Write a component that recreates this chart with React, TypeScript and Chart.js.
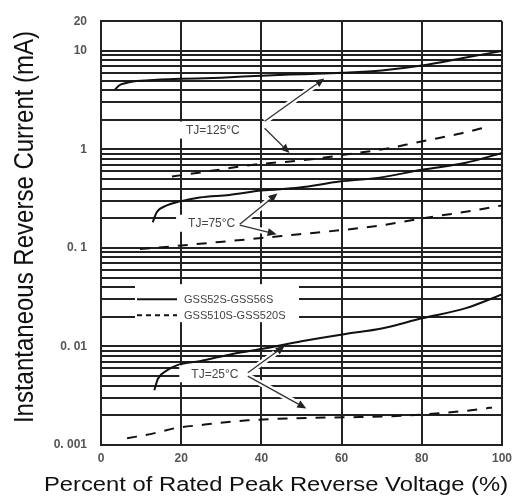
import { useEffect, useRef } from 'react';
import { Chart, registerables } from 'chart.js';

Chart.register(...registerables);

// ---- axis / tick data ----
const xTickStep = 20;
const xMin = 0;
const xMax = 100;
const yMin = 0.001;
const yMax = 20;
const yLabelValues = [20, 10, 1, 0.1, 0.01, 0.001];
const yLabelTexts = ['20', '10', '1', '0. 1', '0. 01', '0. 001'];
const yGridDecades = [0.001, 0.01, 0.1, 1];
const yGridMantissas = [1, 2, 3, 4, 5, 6, 7, 8, 9];
const yGridExtra = [10, 20];

const xTitle = 'Percent of Rated Peak Reverse Voltage (%)';
const yTitle = 'Instantaneous Reverse Current (mA)';

// ---- series: GSS52S-GSS56S (solid) ----
const solid125X = [3.5, 4.5, 6, 8, 11, 14, 20, 30, 40, 50, 60, 70, 80, 90, 100];
const solid125Y = [4.05, 4.45, 4.7, 4.9, 5.0, 5.1, 5.2, 5.35, 5.6, 5.8, 6.0, 6.33, 7.1, 8.4, 10.0];
const solid75X = [12.9, 13.9, 16.4, 19.7, 24.6, 32, 40, 49.5, 59.5, 69.5, 80, 91, 100];
const solid75Y = [0.182, 0.23, 0.27, 0.297, 0.325, 0.345, 0.382, 0.41, 0.471, 0.517, 0.621, 0.731, 0.92];
const solid25X = [13.3, 14.2, 16.4, 19.2, 24.6, 32.8, 41, 50, 61, 70, 80, 91, 100];
const solid25Y = [0.0036, 0.0047, 0.0057, 0.0065, 0.0071, 0.0084, 0.0096, 0.0113, 0.0134, 0.0152, 0.0193, 0.0245, 0.0337];

// ---- series: GSS510S-GSS520S (dashed) ----
const dashed125X = [17.7, 28, 38, 49.5, 60.5, 72.5, 78, 84, 90, 97];
const dashed125Y = [0.53, 0.61, 0.7, 0.77, 0.88, 1.04, 1.16, 1.3, 1.46, 1.72];
const dashed75X = [9.7, 18, 29.6, 40, 49.5, 59.5, 70, 82, 93, 100];
const dashed75Y = [0.0975, 0.104, 0.115, 0.126, 0.138, 0.151, 0.17, 0.205, 0.24, 0.27];
const dashed25X = [6.5, 13.4, 18.4, 24.6, 36.6, 48.5, 60.7, 72.4, 84.6, 96, 97.5];
const dashed25Y = [0.00117, 0.00132, 0.00148, 0.00159, 0.00178, 0.00187, 0.00191, 0.00196, 0.0021, 0.00235, 0.0024];

const seriesNames = ['GSS52S-GSS56S', 'GSS510S-GSS520S'];

// ---- temperature annotations (data coordinates) ----
const tempLabels = ['TJ=125°C', 'TJ=75°C', 'TJ=25°C'];
const tempLabelAt = [
  [27.9, 1.57],
  [27.6, 0.178],
  [28.4, 0.00528],
];
const tempArrows = [
  [
    [40.8, 1.93, 55.7, 5.23],
    [40.8, 1.64, 47.0, 0.921],
  ],
  [
    [34.6, 0.174, 44.0, 0.357],
    [34.6, 0.17, 43.8, 0.138],
  ],
  [
    [36.6, 0.0054, 45.8, 0.0101],
    [36.6, 0.005, 51.2, 0.00235],
  ],
];

const toPts = (xs: number[], ys: number[]) => xs.map((x, i) => ({ x, y: ys[i] }));
const gridValues = [
  ...yGridDecades.flatMap((d) => yGridMantissas.map((m) => Number((m * d).toPrecision(3)))),
  ...yGridExtra,
];

const FONT = '"Liberation Sans", Arial, sans-serif';

const overlayPlugin = {
  id: 'overlay',
  afterDatasetsDraw(chart: any) {
    const { ctx, chartArea, scales } = chart;
    const xs = scales.x;
    const ys = scales.y;

    // annotations
    ctx.save();
    ctx.font = `12px ${FONT}`;
    tempLabels.forEach((text, i) => {
      const cx = xs.getPixelForValue(tempLabelAt[i][0]);
      const cy = ys.getPixelForValue(tempLabelAt[i][1]);
      const w = ctx.measureText(text).width + 24;
      // arrow halos
      tempArrows[i].forEach(([sx, sy, ex, ey]) => {
        const x0 = xs.getPixelForValue(sx);
        const y0 = ys.getPixelForValue(sy);
        const x1 = xs.getPixelForValue(ex);
        const y1 = ys.getPixelForValue(ey);
        const len = Math.hypot(x1 - x0, y1 - y0);
        const ux = (x1 - x0) / len;
        const uy = (y1 - y0) / len;
        ctx.strokeStyle = '#fff';
        ctx.lineWidth = 6;
        ctx.setLineDash([]);
        ctx.beginPath();
        ctx.moveTo(x0, y0);
        ctx.lineTo(x1 - ux * 12, y1 - uy * 12);
        ctx.stroke();
      });
      ctx.fillStyle = '#fff';
      ctx.fillRect(cx - w / 2, cy - 8.5, w, 17);
      tempArrows[i].forEach(([sx, sy, ex, ey]) => {
        const x0 = xs.getPixelForValue(sx);
        const y0 = ys.getPixelForValue(sy);
        const x1 = xs.getPixelForValue(ex);
        const y1 = ys.getPixelForValue(ey);
        const len = Math.hypot(x1 - x0, y1 - y0);
        const ux = (x1 - x0) / len;
        const uy = (y1 - y0) / len;
        const hl = 9;
        const hw = 4;
        ctx.strokeStyle = '#333';
        ctx.lineWidth = 1.3;
        ctx.beginPath();
        ctx.moveTo(x0, y0);
        ctx.lineTo(x1 - ux * hl, y1 - uy * hl);
        ctx.stroke();
        ctx.fillStyle = '#222';
        ctx.beginPath();
        ctx.moveTo(x1, y1);
        ctx.lineTo(x1 - ux * hl - uy * hw, y1 - uy * hl + ux * hw);
        ctx.lineTo(x1 - ux * hl + uy * hw, y1 - uy * hl - ux * hw);
        ctx.closePath();
        ctx.fill();
      });
      ctx.fillStyle = '#444';
      ctx.textAlign = 'center';
      ctx.textBaseline = 'middle';
      ctx.fillText(text, cx, cy + 0.5);
    });

    // legend
    const lx = chartArea.left + 34;
    const ly = chartArea.top + 263;
    ctx.fillStyle = '#fff';
    ctx.fillRect(lx, ly, 164, 38);
    ctx.strokeStyle = '#111';
    ctx.lineWidth = 2;
    ctx.setLineDash([]);
    ctx.beginPath();
    ctx.moveTo(lx + 2, ly + 15);
    ctx.lineTo(lx + 42, ly + 15);
    ctx.stroke();
    ctx.setLineDash([5, 4]);
    ctx.beginPath();
    ctx.moveTo(lx + 2, ly + 31);
    ctx.lineTo(lx + 42, ly + 31);
    ctx.stroke();
    ctx.setLineDash([]);
    ctx.font = `11px ${FONT}`;
    ctx.fillStyle = '#444';
    ctx.textAlign = 'left';
    ctx.textBaseline = 'middle';
    ctx.fillText(seriesNames[0], lx + 49, ly + 16);
    ctx.fillText(seriesNames[1], lx + 49, ly + 32);
    ctx.restore();
  },
  afterDraw(chart: any) {
    const { ctx } = chart;
    ctx.save();
    ctx.fillStyle = '#111';
    ctx.textAlign = 'center';
    ctx.textBaseline = 'alphabetic';
    ctx.font = `19.5px ${FONT}`;
    ctx.translate(276, 491);
    ctx.scale(1.22, 1);
    ctx.fillText(xTitle, 0, 0);
    ctx.restore();

    ctx.save();
    ctx.fillStyle = '#111';
    ctx.textAlign = 'center';
    ctx.textBaseline = 'alphabetic';
    ctx.font = `24px ${FONT}`;
    ctx.translate(33, 227);
    ctx.rotate(-Math.PI / 2);
    ctx.scale(1, 1.17);
    ctx.fillText(yTitle, 0, 0);
    ctx.restore();
  },
};

export default function App() {
  const ref = useRef<HTMLCanvasElement | null>(null);

  useEffect(() => {
    if (!ref.current) return;
    const solidStyle = { borderColor: '#111', borderWidth: 2, pointRadius: 0, fill: false, cubicInterpolationMode: 'monotone' as const };
    const dashedStyle = { ...solidStyle, borderDash: [10, 9] };
    const chart = new Chart(ref.current, {
      type: 'line',
      data: {
        datasets: [
          { label: seriesNames[0] + ' 125', data: toPts(solid125X, solid125Y), ...solidStyle },
          { label: seriesNames[0] + ' 75', data: toPts(solid75X, solid75Y), ...solidStyle },
          { label: seriesNames[0] + ' 25', data: toPts(solid25X, solid25Y), ...solidStyle },
          { label: seriesNames[1] + ' 125', data: toPts(dashed125X, dashed125Y), ...dashedStyle },
          { label: seriesNames[1] + ' 75', data: toPts(dashed75X, dashed75Y), ...dashedStyle },
          { label: seriesNames[1] + ' 25', data: toPts(dashed25X, dashed25Y), ...dashedStyle },
        ],
      },
      options: {
        responsive: false,
        animation: false,
        layout: { padding: { left: 0, right: 15, top: 17, bottom: 0 } },
        plugins: { legend: { display: false }, tooltip: { enabled: false } },
        scales: {
          x: {
            type: 'linear',
            min: xMin,
            max: xMax,
            ticks: {
              stepSize: xTickStep,
              color: '#555',
              font: { size: 12, weight: 'bold', family: FONT },
              padding: 6,
              maxRotation: 0,
            },
            grid: { color: '#222', lineWidth: 2, drawTicks: false },
            border: { display: true, color: '#222', width: 2 },
            afterFit: (s: any) => {
              s.height = 52;
            },
          },
          y: {
            type: 'logarithmic',
            min: yMin,
            max: yMax,
            afterBuildTicks: (s: any) => {
              s.ticks = gridValues.map((v) => ({ value: v }));
            },
            ticks: {
              autoSkip: false,
              color: '#555',
              font: { size: 12, weight: 'bold', family: FONT },
              padding: 14,
              callback: (v: any) => {
                const idx = yLabelValues.findIndex((lv) => Math.abs(lv - Number(v)) / lv < 1e-6);
                return idx >= 0 ? yLabelTexts[idx] : '';
              },
            },
            grid: { color: '#222', lineWidth: 2, drawTicks: false },
            border: { display: true, color: '#222', width: 2 },
            afterFit: (s: any) => {
              s.width = 101;
            },
          },
        },
      },
      plugins: [overlayPlugin],
    });
    return () => chart.destroy();
  }, []);

  return (
    <div style={{ position: 'fixed', left: 0, top: 0, width: 518, height: 497, background: '#fff' }}>
      <canvas ref={ref} width={518} height={497} style={{ display: 'block' }} />
    </div>
  );
}
